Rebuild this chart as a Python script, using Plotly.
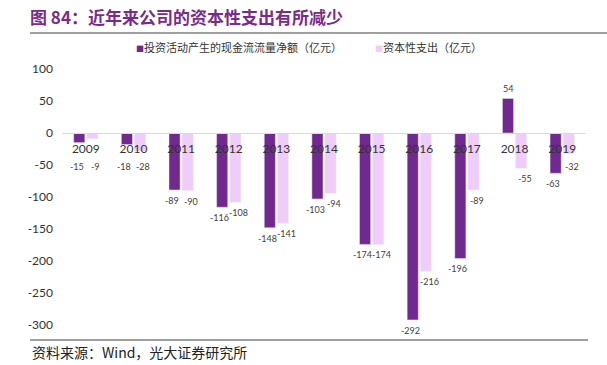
import plotly.graph_objects as go

years = ["2009", "2010", "2011", "2012", "2013", "2014", "2015", "2016", "2017", "2018", "2019"]
invest_cf = [-15, -18, -89, -116, -148, -103, -174, -292, -196, 54, -63]
capex = [-9, -28, -90, -108, -141, -94, -174, -216, -89, -55, -32]
y_ticks = [100, 50, 0, -50, -100, -150, -200, -250, -300]
y_tick_text = [str(v) for v in y_ticks]

name1 = "投资活动产生的现金流流量净额（亿元）"
name2 = "资本性支出（亿元）"

DARK = "#71288F"
LIGHT = "#F0CCF8"

W, H = 607, 365
ML, MR, MT, MB = 62, 21, 60, 30
PW, PH = W - ML - MR, H - MT - MB
YMIN, YMAX = -315.6, 114.1


def px_x(X):
    return (X - ML) / PW


def px_y(Y):
    return (H - MB - Y) / PH


fig = go.Figure()
fig.add_trace(go.Bar(x=years, y=invest_cf, name=name1, marker_color=DARK, legendgroup="a", showlegend=False))
fig.add_trace(go.Bar(x=years, y=capex, name=name2, marker_color=LIGHT, legendgroup="b", showlegend=False))
# legend entries (small square glyph like the original)
for nm, col, grp in ((name1, DARK, "a"), (name2, LIGHT, "b")):
    fig.add_trace(go.Scatter(x=[None], y=[None], mode="markers",
                             marker=dict(color="rgba(0,0,0,0)", size=1, line=dict(width=0)),
                             legendgroup=grp, showlegend=True,
                             name=f'<span style="color:{col};font-size:8px">■</span>{nm}'))

ann = []
lab_font = dict(family="Lato, Open Sans, sans-serif", size=9, color="#404040")
for series, shift in ((invest_cf, -9), (capex, 10)):
    for i, v in enumerate(series):
        if v >= 0:
            ann.append(dict(x=i, y=v, text=str(v), showarrow=False, xshift=shift + 2,
                            yanchor="bottom", yshift=2, font=lab_font))
        else:
            ann.append(dict(x=i, y=min(v, -36), text=str(v), showarrow=False, xshift=shift,
                            yanchor="top", yshift=-3, font=lab_font))

ann.append(dict(xref="paper", yref="paper", x=px_x(30), y=px_y(352), xanchor="left", yanchor="middle",
                text="资料来源：Wind，光大证券研究所", showarrow=False,
                font=dict(family="Noto Sans CJK SC", size=14, color="#222222")))

zero_frac = (0 - YMIN) / (YMAX - YMIN)

fig.update_layout(
    width=W, height=H,
    margin=dict(l=ML, r=MR, t=MT, b=MB, autoexpand=False),
    paper_bgcolor="white", plot_bgcolor="white",
    barmode="group", bargap=0.45, bargroupgap=0.15,
    title=dict(text="<b>图 84：近年来公司的资本性支出有所减少</b>", xref="container", yref="container",
               x=30 / W, y=1 - 18 / H, xanchor="left", yanchor="middle",
               font=dict(family="Noto Sans CJK SC", size=17, color="#7A2A8C")),
    legend=dict(orientation="h", x=px_x(96), y=px_y(48), xanchor="left", yanchor="middle",
                font=dict(family="Noto Sans CJK SC", size=11, color="#333333"),
                itemwidth=30, traceorder="normal", entrywidth=194, entrywidthmode="pixels"),
    xaxis=dict(type="category", range=[-0.5, len(years) - 0.5], anchor="free", position=zero_frac,
               showline=True, linecolor="#D9D9D9", linewidth=1, ticks="", showgrid=False, zeroline=False,
               ticklabelstandoff=5,
               tickfont=dict(family="Lato, Open Sans, sans-serif", size=12, color="#333333")),
    yaxis=dict(range=[YMIN, YMAX], tickvals=y_ticks, ticktext=y_tick_text, showgrid=False,
               zeroline=False, showline=False, ticks="", ticklabelstandoff=8,
               tickfont=dict(family="Lato, Open Sans, sans-serif", size=12, color="#333333")),
    annotations=ann,
    shapes=[
        dict(type="line", xref="paper", yref="paper", x0=px_x(30), x1=px_x(607), y0=px_y(33), y1=px_y(33),
             line=dict(color="#7F7F7F", width=1.5)),
        dict(type="line", xref="paper", yref="paper", x0=px_x(30), x1=px_x(588), y0=px_y(340), y1=px_y(340),
             line=dict(color="#7F7F7F", width=1.5)),
    ],
)

fig.write_html("out.html", config={"displayModeBar": False},
               post_script="document.body.style.margin='0';")
